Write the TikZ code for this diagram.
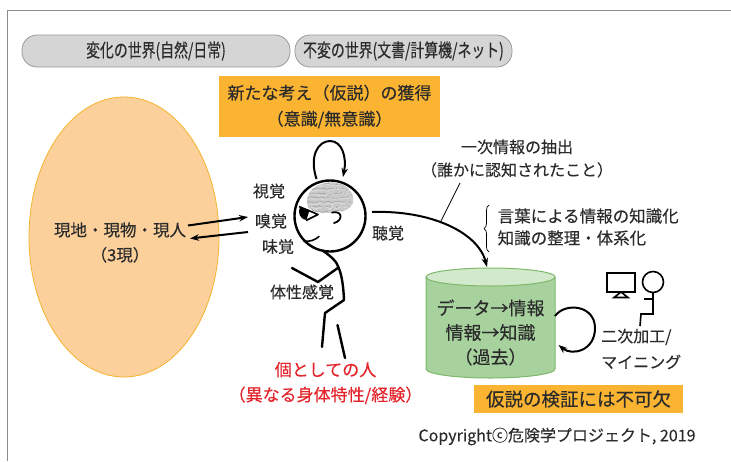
\documentclass[tikz,border=0pt]{standalone}
\usepackage{fontspec}
\setmainfont{Noto Sans CJK JP}[FakeBold=0.25]
\newfontfamily\condjp{Noto Sans CJK JP}[FakeStretch=0.75, FakeBold=0.25]
\usetikzlibrary{arrows.meta,shapes.geometric,decorations.pathreplacing,decorations.pathmorphing}

\definecolor{inkgray}{HTML}{2B2B2B}
\definecolor{framegray}{HTML}{8A8A8A}
\definecolor{pillfill}{HTML}{D5D5D5}
\definecolor{pillline}{HTML}{9A9A9A}
\definecolor{amber}{HTML}{FAB431}
\definecolor{peach}{HTML}{FCD09B}
\definecolor{peachline}{HTML}{F6B22E}
\definecolor{cylbody}{HTML}{A7D19D}
\definecolor{cyltop}{HTML}{D2E9CB}
\definecolor{cylline}{HTML}{7DB86B}
\definecolor{alertred}{HTML}{E3242B}

\tikzset{
  pill/.style={draw=pillline, fill=pillfill, line width=0.8pt, rounded corners=15pt,
    minimum height=32pt, inner sep=0pt, text=inkgray,
    font=\condjp\fontsize{18.5}{20}\selectfont},
  amberbox/.style={fill=amber, inner sep=0pt, text=inkgray, align=center},
  label/.style={text=inkgray, inner sep=0pt, font=\fontsize{16}{20}\selectfont},
  stick/.style={line width=2.4pt, line cap=round, line join=round},
  arr/.style={line width=2pt, -{Stealth[length=9pt,width=6.5pt]}},
  icon/.style={line width=1.6pt, line join=miter},
}

\begin{document}
\begin{tikzpicture}[x=1pt,y=-1pt]
\useasboundingbox (0,0) rectangle (731,461);

% outer frame
\draw[framegray, line width=1pt] (731,10) -- (7,10) -- (7,461);

% the two worlds
\node[pill, minimum width=268pt] (changing) at (156,51) {変化の世界(自然/日常)};
\node[pill, minimum width=217pt] (fixed) at (403.5,51) {不変の世界(文書/計算機/ネット)};

% new idea box
\node[amberbox, minimum width=221pt, minimum height=61pt,
      font=\fontsize{17}{26}\selectfont] (idea) at (329.5,106.5)
  {新たな考え（仮説）の獲得\\（意識/無意識）};

% the field: site, object, person
\node[ellipse, draw=peachline, fill=peach, line width=0.8pt,
      minimum width=190pt, minimum height=280pt, inner sep=0pt] (field) at (124,237) {};
\node[label, align=center, font=\fontsize{16.5}{25}\selectfont] (genba) at (120,242.5)
  {現地・現物・現人\\（3現）};

% head
\node[circle, draw, line width=2.4pt, minimum size=71pt, inner sep=0pt] (head) at (330,216) {};

% brain
\def\brainpath{(308,207)
    .. controls (304,196) and (312,186) .. (322,184)
    .. controls (332,180) and (346,183) .. (351,192)
    .. controls (356,200) and (352,208) .. (346,210)
    .. controls (340,213) and (336,209) .. (332,212)
    .. controls (325,214) and (312,213) .. (308,207) -- cycle}
\begin{scope}
  \fill[gray!42] \brainpath;
  \clip \brainpath;
  \pgfmathsetseed{11}
  \foreach \yy in {184,188.5,...,214} {
    \draw[gray!75, line width=0.5pt, line join=round, decorate,
          decoration={random steps, segment length=2.4pt, amplitude=1.4pt}]
      (302,\yy) -- (358,\yy+1);
  }
  \foreach \yy in {186,190.5,...,214} {
    \draw[gray!18, line width=0.5pt, line join=round, decorate,
          decoration={random steps, segment length=2.6pt, amplitude=1.2pt}]
      (302,\yy) -- (358,\yy-1);
  }
\end{scope}

% eye, ear and mouth
\fill (300,207) .. controls (297.5,212.5) and (299.5,219) .. (306.5,220)
  -- (309.5,210) -- cycle;
\draw[line width=1.6pt, line join=round] (299,206.5) -- (318,214.5) -- (306,220.5);
\draw[line width=1.8pt, line cap=round] (332,212.5) .. controls (343,210) and (343,221) .. (334,223);
\draw[line width=1.6pt, line cap=round] (304,241) .. controls (310,242) and (315,240) .. (319,236.5);

% loop of thought above the head
\coordinate (thinkA) at (316.5,179);
\coordinate (thinkB) at (343,177);
\draw[arr] (thinkA) .. controls (309,156) and (318,141) .. (330,141)
  .. controls (342,141) and (347,157) .. (thinkB);

% body
\coordinate (neck) at (322.5,250.5);
\coordinate (shoulder) at (338.5,267.5);
\coordinate (hip) at (344,300);
\draw[stick] (neck) .. controls (332,257) and (337,262) .. (shoulder)
  .. controls (342,275) and (343.5,288) .. (hip);
\draw[stick] (292,268) -- (318,282) -- (shoulder);
\draw[stick] (hip) -- (325,313) -- (322,347);
\draw[stick] (337.5,325) -- (345,358);

% senses
\node[label] (sight) at (269,191) {視覚};
\node[label] (smell) at (271,221) {嗅覚};
\node[label] (taste) at (278,246.5) {味覚};
\node[label] (somatic) at (302,292) {体性感覚};
\node[label] (hearing) at (388,233) {聴覚};

% exchange between the field and the senses
\coordinate (toSenseA) at (188,225.5);
\coordinate (toSenseB) at (248,217);
\coordinate (fromSenseA) at (248,232);
\coordinate (fromSenseB) at (190,238.5);
\draw[arr] (toSenseA) -- (toSenseB);
\draw[arr] (fromSenseA) -- (fromSenseB);

% the individual
\node[text=alertred, inner sep=0pt, align=center, font=\fontsize{17}{25}\selectfont]
  (individual) at (325.5,383) {個としての人\\（異なる身体特性/経験）};

% record: data, information, knowledge
\fill[cylbody] (426,277) -- (426,369)
  arc[start angle=180, end angle=0, x radius=64.5, y radius=9] -- (555,277) -- cycle;
\draw[cylline, line width=1pt] (426,277) -- (426,369)
  arc[start angle=180, end angle=0, x radius=64.5, y radius=9] -- (555,277);
\draw[cylline, fill=cyltop, line width=1pt] (490.5,277) ellipse [x radius=64.5, y radius=9];
\node[label, align=center, minimum width=129pt, minimum height=110pt,
      font=\fontsize{18}{24.5}\selectfont] (record) at (490.5,332.5)
  {データ→情報\\情報→知識\\（過去）};

% hearing into the record
\coordinate (hearOut) at (372,212);
\coordinate (recordIn) at (487,267);
\draw[arr] (hearOut) .. controls (430,210) and (478,232) .. (recordIn);

% primary information
\node[label, align=center, font=\fontsize{16}{23}\selectfont] (primary) at (517,158.5)
  {一次情報の抽出\\（誰かに認知されたこと）};
\coordinate (primaryFoot) at (460,183);
\coordinate (onCurve) at (440.5,222);
\draw[line width=0.7pt] (primaryFoot) -- (onCurve);

% knowledge building
\draw[line width=0.7pt, decorate, decoration={brace, amplitude=5pt}] (489,252) -- (489,205);
\node[label, anchor=west, align=left, font=\fontsize{16.5}{22}\selectfont] (knowledge) at (497.5,227)
  {言葉による情報の知識化\\知識の整理・体系化};

% secondary processing loop
\coordinate (loopStart) at (555,316);
\coordinate (loopEnd) at (558.5,345);
\draw[arr] (loopStart) .. controls (565,302) and (595,305) .. (595,328)
  .. controls (595,351) and (572,356) .. (loopEnd);

% computer and seated operator
\draw[icon] (607,273) rectangle (635,292);
\draw[icon] (621,292) -- (614,297.5) -- (628,297.5) -- cycle;
\draw[icon] (653,282) circle[radius=10.5];
\draw[icon] (653,292.5) -- (653,314) -- (641,314) -- (640,326);
\draw[icon] (644,299) -- (653,299);
\node[label, anchor=west, align=left, font=\fontsize{16}{26}\selectfont] (mining) at (601,349)
  {二次加工/\\マイニング};

% verification note
\node[amberbox, minimum width=209pt, minimum height=28pt,
      font=\fontsize{18.5}{22}\selectfont] (verify) at (578.5,399) {仮説の検証には不可欠};

% copyright
\node[label, font=\fontsize{16}{20}\selectfont] (copyright) at (557,436.5)
  {Copyrightⓒ危険学プロジェクト, 2019};
\end{tikzpicture}
\end{document}
